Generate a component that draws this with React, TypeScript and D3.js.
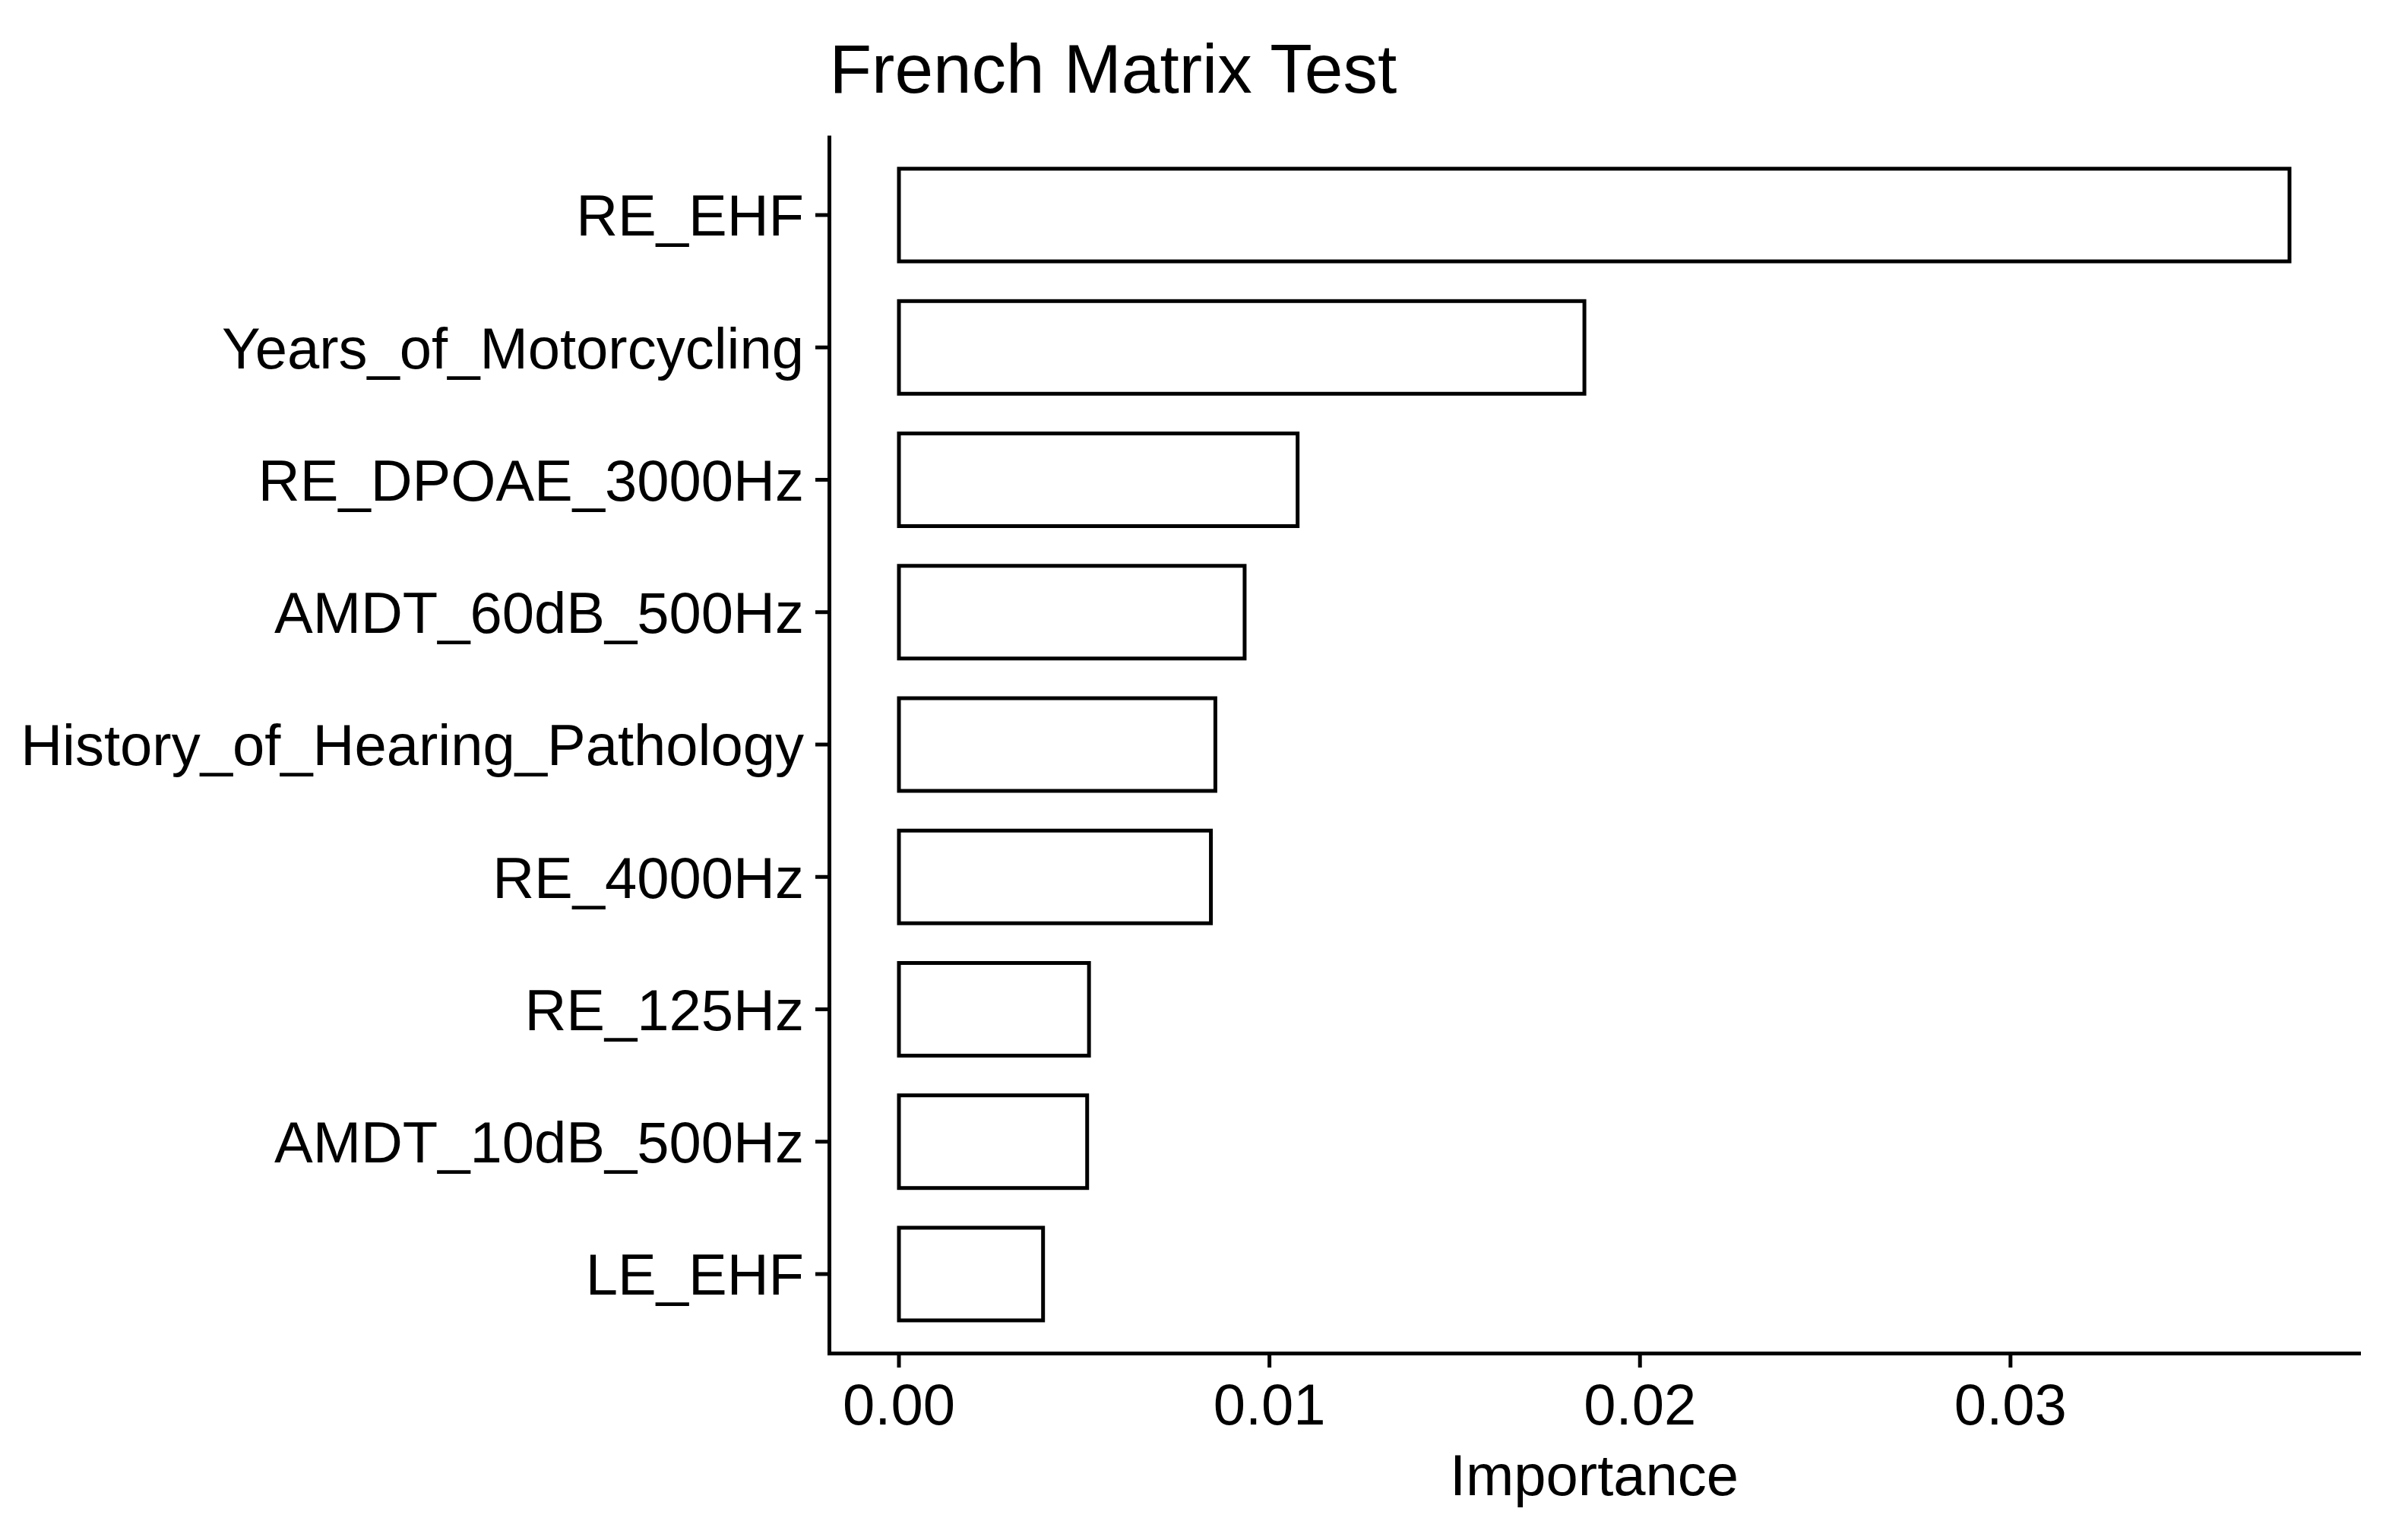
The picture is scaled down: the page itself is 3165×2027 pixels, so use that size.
import React, { useEffect, useRef } from "react";
import * as d3 from "d3";

// variables from top to bottom, as in the plot
const features = [
    "RE_EHF",
    "Years_of_Motorcycling",
    "RE_DPOAE_3000Hz",
    "AMDT_60dB_500Hz",
    "History_of_Hearing_Pathology",
    "RE_4000Hz",
    "RE_125Hz",
    "AMDT_10dB_500Hz",
    "LE_EHF",
];
const importance = [0.03753, 0.0185, 0.01076, 0.00933, 0.00854, 0.00842, 0.00513, 0.00508, 0.00389];
const xTicks = [0, 0.01, 0.02, 0.03];

const title = "French Matrix Test";
const xLabel = "Importance";

const W = 3165;
const H = 2027;
const FONT = "'Liberation Sans', Arial, sans-serif";

const App = () => {
    const svgRef = useRef(null);

    useEffect(() => {
        const svg = d3.select(svgRef.current);
        svg.selectAll("*").remove();

        const left = 1091.5;
        const right = 3104.5;
        const top = 178.5;
        const bottom = 1781.5;
        const lw = 5;
        const tickLen = 18.5;
        const fs = 76;

        const maxV = d3.max(importance) as number;
        const pad = maxV * 0.05;
        const x = d3.scaleLinear().domain([-pad, maxV + pad]).range([left, right]);

        // ggplot discrete scale: 0.6 units expansion, bar width 0.7
        const y = d3
            .scaleBand<string>()
            .domain(features)
            .range([top, bottom])
            .paddingInner(0.3)
            .paddingOuter(0.25);

        svg.append("rect").attr("width", W).attr("height", H).attr("fill", "#fff");

        // bars
        svg.append("g")
            .selectAll("rect")
            .data(features)
            .enter()
            .append("rect")
            .attr("x", x(0))
            .attr("y", (d) => y(d) as number)
            .attr("width", (_d, i) => x(importance[i]) - x(0))
            .attr("height", y.bandwidth())
            .attr("fill", "#fff")
            .attr("stroke", "#000")
            .attr("stroke-width", lw);

        // axis lines
        svg.append("line")
            .attr("x1", left)
            .attr("x2", left)
            .attr("y1", top)
            .attr("y2", bottom)
            .attr("stroke", "#000")
            .attr("stroke-width", lw);
        svg.append("line")
            .attr("x1", left - lw / 2)
            .attr("x2", right + 2.5)
            .attr("y1", bottom)
            .attr("y2", bottom)
            .attr("stroke", "#000")
            .attr("stroke-width", lw);

        // y ticks + labels
        const yg = svg.append("g");
        features.forEach((f) => {
            const cy = (y(f) as number) + y.bandwidth() / 2;
            yg.append("line")
                .attr("x1", left - tickLen)
                .attr("x2", left)
                .attr("y1", cy)
                .attr("y2", cy)
                .attr("stroke", "#000")
                .attr("stroke-width", lw);
            yg.append("text")
                .attr("x", left - tickLen - 15)
                .attr("y", cy + fs * 0.36)
                .attr("text-anchor", "end")
                .attr("font-family", FONT)
                .attr("font-size", fs)
                .attr("fill", "#000")
                .text(f);
        });

        // x ticks + labels
        const fmt = d3.format(".2f");
        const xg = svg.append("g");
        xTicks.forEach((t) => {
            xg.append("line")
                .attr("x1", x(t))
                .attr("x2", x(t))
                .attr("y1", bottom)
                .attr("y2", bottom + tickLen)
                .attr("stroke", "#000")
                .attr("stroke-width", lw);
            xg.append("text")
                .attr("x", x(t))
                .attr("y", 1875)
                .attr("text-anchor", "middle")
                .attr("font-family", FONT)
                .attr("font-size", fs)
                .attr("fill", "#000")
                .text(fmt(t));
        });

        svg.append("text")
            .attr("x", (left + right) / 2)
            .attr("y", 1968)
            .attr("text-anchor", "middle")
            .attr("font-family", FONT)
            .attr("font-size", fs)
            .attr("fill", "#000")
            .text(xLabel);

        svg.append("text")
            .attr("x", left)
            .attr("y", 122)
            .attr("font-family", FONT)
            .attr("font-size", 91)
            .attr("fill", "#000")
            .text(title);
    }, []);

    return (
        <div style={{ position: "absolute", left: 0, top: 0 }}>
            <svg ref={svgRef} width={W} height={H} style={{ display: "block" }}></svg>
        </div>
    );
};

export default App;
